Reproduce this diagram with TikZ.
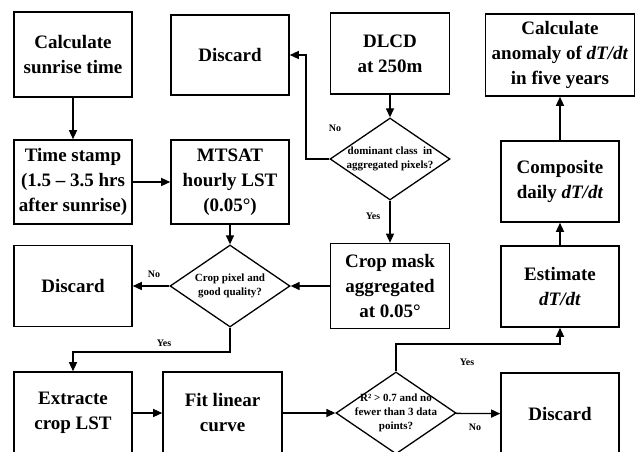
\documentclass[tikz,border=0pt]{standalone}
\usepackage{fontspec}
\setmainfont{Liberation Serif}
\usetikzlibrary{arrows.meta}
\usetikzlibrary{shapes.geometric}

\begin{document}
\begin{tikzpicture}[x=1pt, y=-1pt, >={Triangle[length=9pt,width=8pt]}, line width=1.3pt]
  \tikzstyle{proc}=[draw, line width=1.6pt, minimum width=118pt, minimum height=82pt, inner sep=0pt, align=center, font=\fontsize{19}{25}\selectfont\bfseries]
  \tikzstyle{decision}=[diamond, draw, line width=1.3pt, inner sep=0pt, minimum width=120pt, minimum height=82pt]
  \tikzstyle{dtext}=[align=center, inner sep=0pt, font=\fontsize{11}{14}\selectfont\bfseries]
  \tikzstyle{answer}=[inner sep=0pt, font=\fontsize{10}{12}\selectfont\bfseries]

  \useasboundingbox (0,0) rectangle (637,452);
  \clip (0,0) rectangle (637,452);

  % top row
  \node[proc, minimum height=85pt]  (sun)   at (73,54.5)  {Calculate\\sunrise time};
  \node[proc, minimum height=80pt]  (disc1) at (230,55)   {Discard};
  \node[proc, minimum width=119pt, minimum height=81pt] (dlcd) at (390,53.5) {DLCD\\at 250m};
  \node[proc, minimum width=149pt]  (anom)  at (560,55)   {Calculate\\anomaly of \textit{dT/dt}\\in five years};

  % second row
  \node[proc, minimum height=84pt]  (stamp) at (73,182)   {Time stamp\\(1.5 -- 3.5 hrs\\after sunrise)};
  \node[proc, minimum height=84pt]  (mtsat) at (230,182)  {MTSAT\\hourly LST\\(0.05°)};
  \node[decision, label={[dtext]center:{dominant class~~in\\aggregated pixels?}}] (dia1) at (390,159) {};
  \node[proc, minimum height=81pt]  (comp)  at (560,181.5) {Composite\\daily \textit{dT/dt}};

  % third row
  \node[proc, minimum height=81pt]  (disc2) at (73,286)   {Discard};
  \node[decision, label={[dtext]center:{Crop pixel and\\good quality?}}] (dia2) at (230,286) {};
  \node[proc, minimum width=119pt, minimum height=85pt] (crop) at (390,286) {Crop mask\\aggregated\\at 0.05°};
  \node[proc, minimum height=81pt]  (est)   at (560,286.5) {Estimate\\\textit{dT/dt}};

  % bottom row
  \node[proc]                       (ext)   at (73,413)   {Extracte\\crop LST};
  \node[proc, minimum width=119pt]  (fit)   at (222.5,413) {Fit linear\\curve};
  \node[decision, label={[dtext]center:{R² > 0.7 and no\\fewer than 3 data\\points?}}] (dia3) at (396,413) {};
  \node[proc]                       (disc3) at (560,414)  {Discard};

  % bends
  \coordinate (k1) at (306,159);
  \coordinate (k2) at (230,352);
  \coordinate (k3) at (396,344);

  % yes / no
  \node[answer] (no1)  at (335,128) {No};
  \node[answer] (yes1) at (373,216) {Yes};
  \node[answer] (no2)  at (154,274) {No};
  \node[answer] (yes2) at (164,343) {Yes};
  \node[answer] (yes3) at (467,362) {Yes};
  \node[answer] (no3)  at (475,427) {No};

  \path[->] (sun) edge (stamp)
      (stamp) edge (mtsat)
      (dlcd) edge (dia1)
      (dia1) edge (crop)
      (mtsat) edge (dia2)
      (crop) edge (dia2)
      (dia2) edge (disc2)
      (ext) edge (fit)
      (fit) edge (dia3)
      (dia3) edge (disc3)
      (est) edge (comp)
      (comp) edge (anom)
  ;
  \draw[->] (dia1.west) -- (k1) |- (disc1.east);
  \draw[->] (dia2.south) -- (k2) -| (ext.north);
  \draw[->] (dia3.north) -- (k3) -| (est.south);
\end{tikzpicture}
\end{document}
